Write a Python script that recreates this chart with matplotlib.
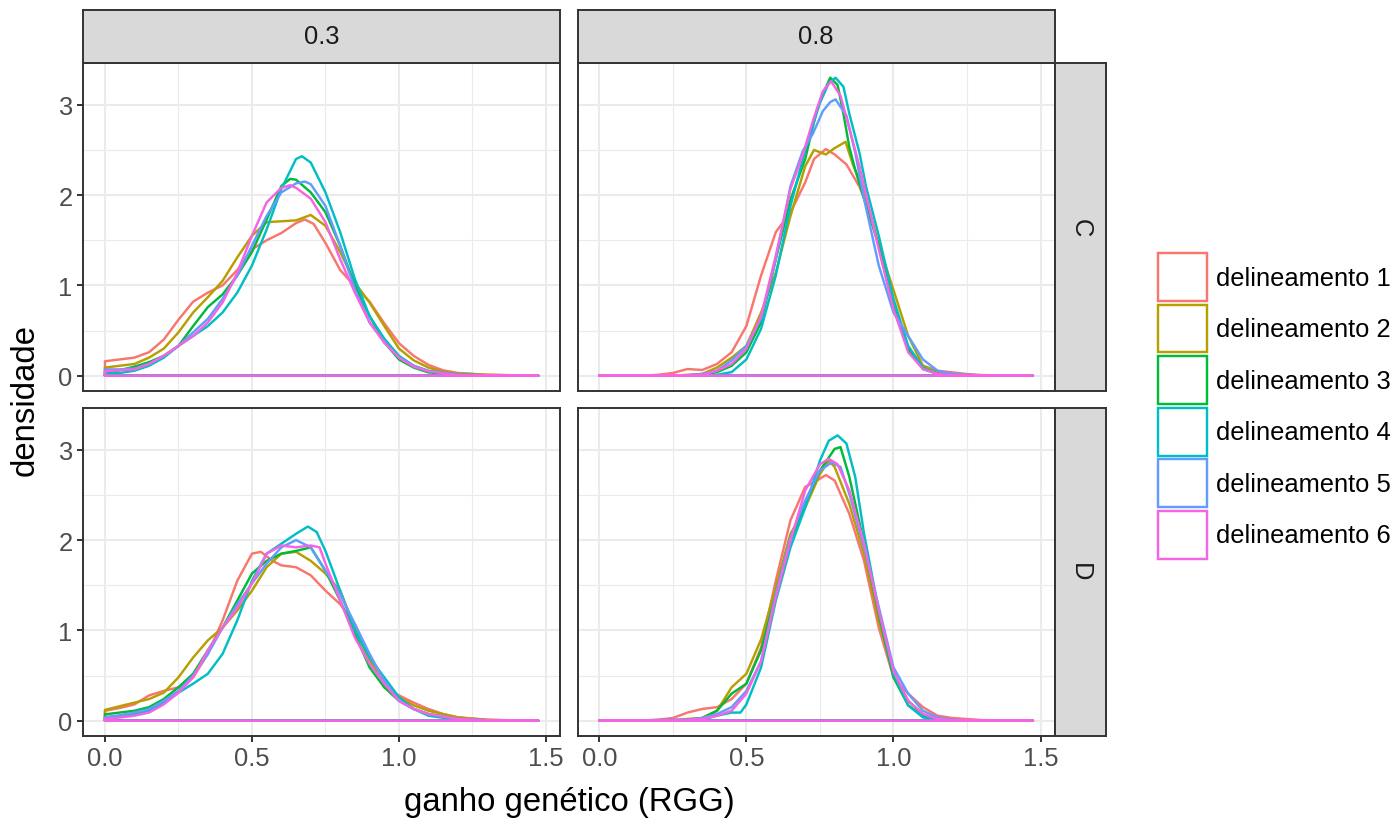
import matplotlib
matplotlib.use("Agg")
import matplotlib.pyplot as plt
from matplotlib.patches import Patch

plt.rcParams['font.family'] = ['Liberation Sans', 'DejaVu Sans']

# ---------------- data ----------------
col_labels = ["0.3", "0.8"]
row_labels = ["C", "D"]
series_names = ["delineamento 1", "delineamento 2", "delineamento 3",
                "delineamento 4", "delineamento 5", "delineamento 6"]
colors = ["#F8766D", "#B79F00", "#00BA38", "#00BFC4", "#619CFF", "#F564E3"]
x_ticks = [0.0, 0.5, 1.0, 1.5]
x_tick_labels = ["0.0", "0.5", "1.0", "1.5"]
y_ticks = [0, 1, 2, 3]

# panel 0.3 / C
c03_d1_x = [0, 0.05, 0.1, 0.15, 0.2, 0.25, 0.3, 0.35, 0.4, 0.45, 0.5, 0.55, 0.6, 0.65, 0.68, 0.71, 0.75, 0.8, 0.85, 0.9, 0.95, 1.0, 1.05, 1.1, 1.15, 1.2, 1.3, 1.4, 1.474]
c03_d1_y = [0.16, 0.18, 0.20, 0.26, 0.40, 0.62, 0.82, 0.92, 1.00, 1.17, 1.40, 1.50, 1.58, 1.69, 1.73, 1.68, 1.47, 1.17, 0.99, 0.82, 0.58, 0.36, 0.22, 0.12, 0.06, 0.03, 0.01, 0.003, 0.0]
c03_d2_x = [0, 0.05, 0.1, 0.15, 0.2, 0.25, 0.3, 0.35, 0.4, 0.45, 0.5, 0.55, 0.6, 0.65, 0.7, 0.75, 0.8, 0.85, 0.9, 0.95, 1.0, 1.05, 1.1, 1.15, 1.2, 1.3, 1.4, 1.474]
c03_d2_y = [0.09, 0.11, 0.13, 0.20, 0.30, 0.48, 0.70, 0.87, 1.05, 1.31, 1.55, 1.70, 1.71, 1.72, 1.78, 1.66, 1.37, 1.03, 0.81, 0.55, 0.30, 0.17, 0.09, 0.045, 0.026, 0.01, 0.005, 0.0]
c03_d3_x = [0, 0.05, 0.1, 0.15, 0.2, 0.25, 0.3, 0.35, 0.4, 0.45, 0.5, 0.55, 0.6, 0.63, 0.65, 0.7, 0.75, 0.8, 0.85, 0.9, 0.95, 1.0, 1.05, 1.1, 1.2, 1.3, 1.474]
c03_d3_y = [0.03, 0.06, 0.10, 0.15, 0.22, 0.33, 0.55, 0.76, 0.90, 1.11, 1.37, 1.73, 2.10, 2.18, 2.17, 2.03, 1.81, 1.44, 1.00, 0.66, 0.37, 0.18, 0.09, 0.037, 0.01, 0.003, 0.0]
c03_d4_x = [0, 0.05, 0.1, 0.15, 0.2, 0.25, 0.3, 0.35, 0.4, 0.45, 0.5, 0.55, 0.6, 0.65, 0.67, 0.7, 0.75, 0.8, 0.85, 0.9, 0.95, 1.0, 1.05, 1.1, 1.2, 1.3, 1.474]
c03_d4_y = [0.02, 0.03, 0.055, 0.11, 0.20, 0.33, 0.44, 0.55, 0.70, 0.92, 1.22, 1.62, 2.07, 2.40, 2.43, 2.36, 2.03, 1.59, 1.07, 0.66, 0.41, 0.22, 0.11, 0.055, 0.015, 0.004, 0.0]
c03_d5_x = [0, 0.05, 0.1, 0.15, 0.2, 0.25, 0.3, 0.35, 0.4, 0.45, 0.5, 0.55, 0.6, 0.65, 0.68, 0.7, 0.75, 0.8, 0.85, 0.9, 0.95, 1.0, 1.05, 1.1, 1.2, 1.3, 1.474]
c03_d5_y = [0.07, 0.07, 0.08, 0.13, 0.22, 0.33, 0.48, 0.63, 0.85, 1.11, 1.44, 1.77, 2.03, 2.13, 2.15, 2.12, 1.88, 1.44, 0.96, 0.59, 0.37, 0.20, 0.11, 0.05, 0.01, 0.003, 0.0]
c03_d6_x = [0, 0.05, 0.1, 0.15, 0.2, 0.25, 0.3, 0.35, 0.4, 0.45, 0.5, 0.55, 0.6, 0.63, 0.65, 0.7, 0.75, 0.8, 0.85, 0.9, 0.95, 1.0, 1.05, 1.1, 1.2, 1.3, 1.474]
c03_d6_y = [0.05, 0.06, 0.07, 0.13, 0.22, 0.33, 0.44, 0.59, 0.81, 1.14, 1.55, 1.92, 2.08, 2.11, 2.08, 1.96, 1.70, 1.29, 0.92, 0.59, 0.37, 0.20, 0.10, 0.05, 0.01, 0.003, 0.0]

# panel 0.8 / C
c08_d1_x = [0, 0.15, 0.2, 0.25, 0.3, 0.35, 0.4, 0.45, 0.5, 0.55, 0.6, 0.65, 0.7, 0.73, 0.77, 0.8, 0.84, 0.885, 0.92, 0.95, 1.0, 1.05, 1.1, 1.15, 1.2, 1.25, 1.3, 1.4, 1.474]
c08_d1_y = [0, 0.0, 0.01, 0.03, 0.074, 0.063, 0.13, 0.26, 0.55, 1.11, 1.59, 1.81, 2.14, 2.40, 2.51, 2.45, 2.34, 2.09, 1.80, 1.44, 0.74, 0.30, 0.11, 0.055, 0.037, 0.018, 0.007, 0.002, 0.0]
c08_d2_x = [0, 0.25, 0.3, 0.35, 0.4, 0.45, 0.5, 0.55, 0.6, 0.65, 0.7, 0.73, 0.77, 0.8, 0.837, 0.862, 0.9, 0.95, 1.0, 1.05, 1.1, 1.15, 1.2, 1.3, 1.474]
c08_d2_y = [0, 0.0, 0.01, 0.02, 0.09, 0.20, 0.33, 0.70, 1.14, 1.77, 2.32, 2.50, 2.45, 2.52, 2.59, 2.34, 2.05, 1.45, 0.95, 0.44, 0.11, 0.04, 0.015, 0.003, 0.0]
c08_d3_x = [0, 0.3, 0.35, 0.4, 0.45, 0.5, 0.55, 0.6, 0.65, 0.7, 0.74, 0.76, 0.785, 0.81, 0.83, 0.85, 0.87, 0.9, 0.95, 1.0, 1.05, 1.1, 1.15, 1.2, 1.474]
c08_d3_y = [0, 0.0, 0.01, 0.04, 0.11, 0.26, 0.59, 1.29, 1.95, 2.40, 2.95, 3.12, 3.30, 3.22, 2.90, 2.53, 2.28, 1.96, 1.44, 0.77, 0.30, 0.074, 0.02, 0.005, 0.0]
c08_d4_x = [0, 0.35, 0.4, 0.45, 0.5, 0.55, 0.6, 0.65, 0.7, 0.75, 0.78, 0.803, 0.83, 0.85, 0.885, 0.907, 0.95, 1.0, 1.05, 1.1, 1.15, 1.2, 1.474]
c08_d4_y = [0, 0.0, 0.01, 0.04, 0.18, 0.52, 1.11, 1.88, 2.50, 3.02, 3.24, 3.30, 3.20, 2.90, 2.46, 2.09, 1.55, 0.85, 0.33, 0.09, 0.02, 0.005, 0.0]
c08_d5_x = [0, 0.3, 0.35, 0.4, 0.45, 0.5, 0.55, 0.6, 0.65, 0.692, 0.726, 0.76, 0.785, 0.803, 0.84, 0.87, 0.9, 0.95, 1.0, 1.05, 1.1, 1.15, 1.2, 1.3, 1.474]
c08_d5_y = [0, 0.005, 0.02, 0.055, 0.17, 0.33, 0.63, 1.29, 2.10, 2.49, 2.68, 2.93, 3.03, 3.06, 2.88, 2.47, 1.96, 1.22, 0.70, 0.44, 0.18, 0.055, 0.02, 0.003, 0.0]
c08_d6_x = [0, 0.3, 0.35, 0.4, 0.45, 0.5, 0.55, 0.6, 0.65, 0.692, 0.726, 0.76, 0.788, 0.82, 0.845, 0.885, 0.9, 0.95, 1.0, 1.05, 1.1, 1.15, 1.2, 1.474]
c08_d6_y = [0, 0.0, 0.01, 0.055, 0.13, 0.30, 0.66, 1.33, 2.07, 2.45, 2.82, 3.15, 3.26, 3.10, 2.80, 2.31, 2.10, 1.40, 0.74, 0.26, 0.074, 0.02, 0.005, 0.0]

# panel 0.3 / D
d03_d1_x = [0, 0.05, 0.1, 0.15, 0.2, 0.25, 0.3, 0.35, 0.4, 0.45, 0.5, 0.53, 0.57, 0.6, 0.65, 0.7, 0.75, 0.8, 0.85, 0.9, 0.95, 1.0, 1.05, 1.1, 1.15, 1.2, 1.3, 1.4, 1.474]
d03_d1_y = [0.11, 0.14, 0.18, 0.28, 0.33, 0.37, 0.48, 0.74, 1.11, 1.55, 1.85, 1.87, 1.77, 1.72, 1.70, 1.61, 1.44, 1.29, 1.07, 0.70, 0.37, 0.28, 0.20, 0.13, 0.074, 0.037, 0.01, 0.003, 0.0]
d03_d2_x = [0, 0.05, 0.1, 0.15, 0.2, 0.25, 0.3, 0.35, 0.4, 0.45, 0.5, 0.55, 0.6, 0.65, 0.7, 0.75, 0.8, 0.85, 0.9, 0.95, 1.0, 1.05, 1.1, 1.2, 1.3, 1.4, 1.474]
d03_d2_y = [0.12, 0.16, 0.20, 0.24, 0.31, 0.48, 0.70, 0.89, 1.03, 1.22, 1.44, 1.70, 1.85, 1.87, 1.77, 1.63, 1.44, 1.03, 0.66, 0.41, 0.26, 0.17, 0.11, 0.037, 0.01, 0.003, 0.0]
d03_d3_x = [0, 0.05, 0.1, 0.15, 0.2, 0.25, 0.3, 0.35, 0.4, 0.45, 0.5, 0.55, 0.6, 0.65, 0.7, 0.75, 0.8, 0.85, 0.9, 0.95, 1.0, 1.05, 1.1, 1.2, 1.3, 1.474]
d03_d3_y = [0.07, 0.09, 0.11, 0.15, 0.24, 0.37, 0.52, 0.78, 1.03, 1.33, 1.63, 1.77, 1.85, 1.88, 1.92, 1.66, 1.33, 0.96, 0.59, 0.37, 0.22, 0.13, 0.074, 0.02, 0.005, 0.0]
d03_d4_x = [0, 0.05, 0.1, 0.15, 0.2, 0.25, 0.3, 0.35, 0.4, 0.45, 0.5, 0.55, 0.6, 0.65, 0.69, 0.72, 0.75, 0.8, 0.85, 0.9, 0.95, 1.0, 1.05, 1.1, 1.2, 1.3, 1.474]
d03_d4_y = [0.03, 0.05, 0.074, 0.11, 0.20, 0.31, 0.41, 0.52, 0.74, 1.11, 1.55, 1.85, 1.96, 2.07, 2.15, 2.09, 1.88, 1.44, 1.00, 0.70, 0.48, 0.26, 0.13, 0.055, 0.01, 0.003, 0.0]
d03_d5_x = [0, 0.05, 0.1, 0.15, 0.2, 0.25, 0.3, 0.35, 0.4, 0.45, 0.5, 0.55, 0.6, 0.65, 0.7, 0.75, 0.8, 0.85, 0.9, 0.95, 1.0, 1.05, 1.1, 1.2, 1.3, 1.474]
d03_d5_y = [0.04, 0.06, 0.09, 0.13, 0.22, 0.33, 0.50, 0.74, 1.03, 1.29, 1.52, 1.74, 1.92, 2.00, 1.92, 1.66, 1.40, 1.07, 0.74, 0.44, 0.22, 0.13, 0.074, 0.02, 0.005, 0.0]
d03_d6_x = [0, 0.05, 0.1, 0.15, 0.2, 0.25, 0.3, 0.35, 0.4, 0.45, 0.5, 0.55, 0.6, 0.65, 0.7, 0.73, 0.75, 0.8, 0.85, 0.9, 0.95, 1.0, 1.05, 1.1, 1.2, 1.3, 1.474]
d03_d6_y = [0.02, 0.035, 0.055, 0.09, 0.18, 0.31, 0.48, 0.78, 1.03, 1.25, 1.52, 1.85, 1.94, 1.92, 1.94, 1.92, 1.74, 1.33, 0.92, 0.63, 0.41, 0.22, 0.13, 0.074, 0.02, 0.005, 0.0]

# panel 0.8 / D
d08_d1_x = [0, 0.15, 0.2, 0.25, 0.3, 0.35, 0.4, 0.45, 0.5, 0.55, 0.6, 0.65, 0.7, 0.73, 0.77, 0.8, 0.85, 0.9, 0.95, 1.0, 1.05, 1.1, 1.15, 1.2, 1.3, 1.474]
d08_d1_y = [0, 0.0, 0.01, 0.03, 0.09, 0.13, 0.15, 0.24, 0.41, 0.81, 1.55, 2.22, 2.59, 2.64, 2.72, 2.66, 2.29, 1.77, 1.03, 0.48, 0.30, 0.15, 0.055, 0.03, 0.007, 0.0]
d08_d2_x = [0, 0.25, 0.3, 0.35, 0.4, 0.45, 0.5, 0.55, 0.6, 0.65, 0.7, 0.75, 0.78, 0.8, 0.85, 0.9, 0.95, 1.0, 1.05, 1.1, 1.15, 1.2, 1.474]
d08_d2_y = [0, 0.0, 0.02, 0.03, 0.11, 0.37, 0.52, 0.90, 1.48, 2.07, 2.36, 2.73, 2.88, 2.81, 2.40, 1.85, 1.11, 0.52, 0.22, 0.074, 0.02, 0.005, 0.0]
d08_d3_x = [0, 0.3, 0.35, 0.4, 0.45, 0.5, 0.55, 0.6, 0.65, 0.7, 0.75, 0.8, 0.82, 0.85, 0.9, 0.95, 1.0, 1.05, 1.1, 1.15, 1.2, 1.474]
d08_d3_y = [0, 0.01, 0.03, 0.11, 0.30, 0.41, 0.78, 1.40, 1.99, 2.40, 2.77, 3.01, 3.03, 2.70, 1.96, 1.18, 0.48, 0.17, 0.055, 0.015, 0.004, 0.0]
d08_d4_x = [0, 0.35, 0.4, 0.45, 0.48, 0.5, 0.55, 0.6, 0.65, 0.7, 0.75, 0.78, 0.81, 0.84, 0.87, 0.9, 0.95, 1.0, 1.05, 1.1, 1.15, 1.474]
d08_d4_y = [0, 0.01, 0.055, 0.09, 0.09, 0.18, 0.59, 1.33, 1.92, 2.36, 2.88, 3.10, 3.16, 3.07, 2.70, 2.07, 1.22, 0.52, 0.17, 0.037, 0.007, 0.0]
d08_d5_x = [0, 0.3, 0.35, 0.4, 0.45, 0.5, 0.55, 0.6, 0.65, 0.7, 0.75, 0.79, 0.82, 0.85, 0.9, 0.95, 1.0, 1.05, 1.1, 1.15, 1.2, 1.3, 1.474]
d08_d5_y = [0, 0.01, 0.03, 0.074, 0.15, 0.33, 0.66, 1.40, 2.03, 2.44, 2.77, 2.86, 2.81, 2.51, 1.92, 1.26, 0.59, 0.30, 0.11, 0.037, 0.01, 0.002, 0.0]
d08_d6_x = [0, 0.3, 0.35, 0.4, 0.45, 0.5, 0.55, 0.6, 0.65, 0.7, 0.75, 0.78, 0.81, 0.85, 0.9, 0.95, 1.0, 1.05, 1.1, 1.15, 1.2, 1.474]
d08_d6_y = [0, 0.01, 0.02, 0.055, 0.11, 0.30, 0.66, 1.37, 1.99, 2.55, 2.84, 2.90, 2.84, 2.55, 1.96, 1.22, 0.55, 0.22, 0.074, 0.02, 0.005, 0.0]

panels = {
    (0, 0): [(c03_d1_x, c03_d1_y), (c03_d2_x, c03_d2_y), (c03_d3_x, c03_d3_y),
             (c03_d4_x, c03_d4_y), (c03_d5_x, c03_d5_y), (c03_d6_x, c03_d6_y)],
    (0, 1): [(c08_d1_x, c08_d1_y), (c08_d2_x, c08_d2_y), (c08_d3_x, c08_d3_y),
             (c08_d4_x, c08_d4_y), (c08_d5_x, c08_d5_y), (c08_d6_x, c08_d6_y)],
    (1, 0): [(d03_d1_x, d03_d1_y), (d03_d2_x, d03_d2_y), (d03_d3_x, d03_d3_y),
             (d03_d4_x, d03_d4_y), (d03_d5_x, d03_d5_y), (d03_d6_x, d03_d6_y)],
    (1, 1): [(d08_d1_x, d08_d1_y), (d08_d2_x, d08_d2_y), (d08_d3_x, d08_d3_y),
             (d08_d4_x, d08_d4_y), (d08_d5_x, d08_d5_y), (d08_d6_x, d08_d6_y)],
}

# ---------------- layout (pixels) ----------------
W, H = 1397, 820
fig = plt.figure(figsize=(W / 100, H / 100), dpi=100)
fig.patch.set_facecolor("white")

def frac(x0, y0, x1, y1):
    return [x0 / W, 1 - y1 / H, (x1 - x0) / W, (y1 - y0) / H]

col_x = [(83.3, 560.0), (577.6, 1054.6)]
row_y = [(63.8, 391.6), (408.8, 736.6)]
strip_top = (11.0, 63.8)
strip_right = (1054.6, 1106.0)

GRID = "#EBEBEB"
DARK = "#333333"
TICKLAB = "#4D4D4D"
FS = 18.4

xlim = (-0.0737, 1.5477)
ylim = (-0.165, 3.465)

for r in range(2):
    for c in range(2):
        ax = fig.add_axes(frac(col_x[c][0], row_y[r][0], col_x[c][1], row_y[r][1]))
        ax.set_xlim(*xlim)
        ax.set_ylim(*ylim)
        ax.set_facecolor("white")
        for xv in [0, 0.5, 1.0, 1.5]:
            ax.axvline(xv, color=GRID, lw=1.5, zorder=0)
        for xv in [0.25, 0.75, 1.25]:
            ax.axvline(xv, color=GRID, lw=0.8, zorder=0)
        for yv in [0, 1, 2, 3]:
            ax.axhline(yv, color=GRID, lw=1.5, zorder=0)
        for yv in [0.5, 1.5, 2.5]:
            ax.axhline(yv, color=GRID, lw=0.8, zorder=0)
        for (xs, ys), col in zip(panels[(r, c)], colors):
            px = [xs[0]] + list(xs) + [xs[-1], xs[0]]
            py = [0] + list(ys) + [0, 0]
            ax.plot(px, py, color=col, lw=1.75, solid_joinstyle="round",
                    solid_capstyle="round", zorder=2)
        for s in ax.spines.values():
            s.set_color(DARK)
            s.set_linewidth(1.4)
        ax.set_xticks(x_ticks)
        ax.set_yticks(y_ticks)
        ax.tick_params(axis="both", length=4.3, width=1.4, color=DARK,
                       labelcolor=TICKLAB, labelsize=FS, pad=3.5)
        if r == 1:
            ax.set_xticklabels(x_tick_labels)
        else:
            ax.tick_params(axis="x", length=0, labelbottom=False)
        if c == 0:
            ax.set_yticklabels([str(v) for v in y_ticks])
        else:
            ax.tick_params(axis="y", length=0, labelleft=False)

# strips
for c in range(2):
    sax = fig.add_axes(frac(col_x[c][0], strip_top[0], col_x[c][1], strip_top[1]))
    sax.set_facecolor("#D9D9D9")
    sax.set_xticks([]); sax.set_yticks([])
    for s in sax.spines.values():
        s.set_color(DARK); s.set_linewidth(1.4)
    sax.text(0.5, 0.5, col_labels[c], ha="center", va="center",
             fontsize=FS, color="#1A1A1A", transform=sax.transAxes)
for r in range(2):
    sax = fig.add_axes(frac(strip_right[0], row_y[r][0], strip_right[1], row_y[r][1]))
    sax.set_facecolor("#D9D9D9")
    sax.set_xticks([]); sax.set_yticks([])
    for s in sax.spines.values():
        s.set_color(DARK); s.set_linewidth(1.4)
    sax.text(0.5, 0.5, row_labels[r], ha="center", va="center", rotation=-90,
             fontsize=FS, color="#1A1A1A", transform=sax.transAxes)

# axis titles
fig.text(569 / W, 1 - 803 / H, "ganho genético (RGG)", ha="center", va="center",
         fontsize=23.7, color="black")
fig.text(25 / W, 1 - 400 / H, "densidade", ha="center", va="center",
         rotation=90, fontsize=23.7, color="black")

# legend
handles = [Patch(facecolor="white", edgecolor=col, linewidth=1.75) for col in colors]
fig.legend(handles, series_names, loc="upper left",
           bbox_to_anchor=(1158 / W, 1 - 254 / H), frameon=False,
           fontsize=FS, handlelength=1.92, handleheight=2.51,
           handletextpad=0.36, labelspacing=0.14, borderpad=0,
           borderaxespad=0)

fig.savefig("out.png", dpi=100, facecolor="white")
